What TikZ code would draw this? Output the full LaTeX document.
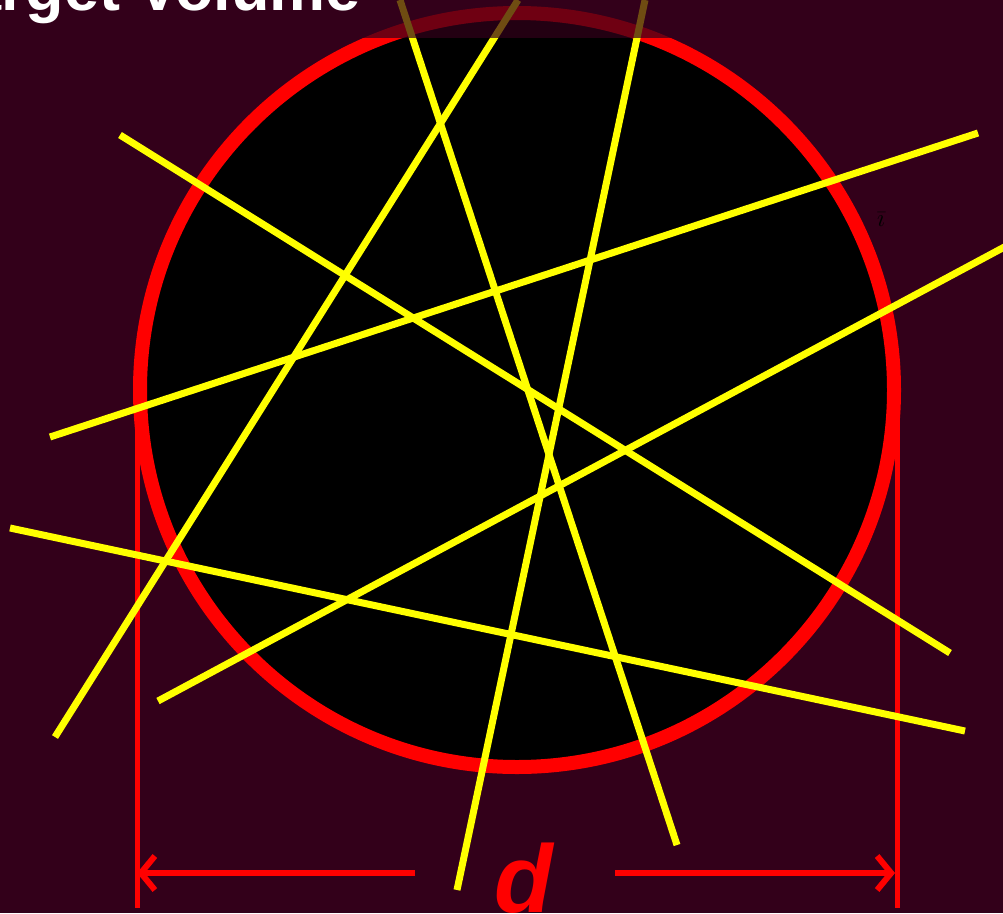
\documentclass[tikz,border=0pt]{standalone}
\usepackage{fontspec}
\setmainfont{Liberation Sans}
\usetikzlibrary{arrows.meta}
\definecolor{plum}{HTML}{33001A}
\definecolor{ringred}{HTML}{FF0000}
\definecolor{rayyellow}{HTML}{FFFF00}
\tikzset{
  ray/.style={rayyellow, line width=7pt},
  dimline/.style={ringred, line width=5pt},
  dimarrow/.style={ringred, line width=6pt, -{Straight Barb[length=14pt,width=34pt]}}
}

\begin{document}
\begin{tikzpicture}[x=1pt, y=-1pt]
      \useasboundingbox (0,0) rectangle (1003,913);
      \clip (0,0) rectangle (1003,913);
      \fill[plum] (0,0) rectangle (1003,913);
      % target volume
      \draw[ringred, fill=black, line width=14pt] (517,390) circle[radius=377];
      % extension lines for d
      \draw[dimline] (137,420) -- (137,908);
      \draw[dimline] (897,420) -- (897,908);
      % rays through the volume
      \foreach \xa/\ya/\xb/\yb in {
        120/135/950/653,
        50/437/978/133,
        10/528/965/731,
        158/701/1010/244,
        55/737/518/0,
        400/0/677/845,
        645/0/457/890}{
        \draw[ray] (\xa,\ya) -- (\xb,\yb);
      }
      % title band
      \fill[plum, opacity=0.7] (0,0) rectangle (1003,38);
      \node[anchor=base east, inner sep=0pt, text=white,
            font=\fontsize{63}{70}\selectfont\bfseries] (title) at (361,10) {Target Volume};
      \node[inner sep=0pt, text=black, font=\fontsize{36}{40}\selectfont] (ibar) at (881,220) {$\bar{\imath}$};
      % diameter
      \coordinate (dleft) at (137,873);
      \coordinate (dright) at (895,873);
      \node[anchor=base, inner sep=0pt, text=ringred,
            font=\fontsize{96}{100}\selectfont\bfseries\itshape] (dlabel) at (524,912) {d};
      \coordinate (dstartl) at (415,873);
      \coordinate (dstartr) at (615,873);
      \draw[dimarrow] (dstartl) -- (dleft);
      \draw[dimarrow] (dstartr) -- (dright);
    \end{tikzpicture}
\end{document}
